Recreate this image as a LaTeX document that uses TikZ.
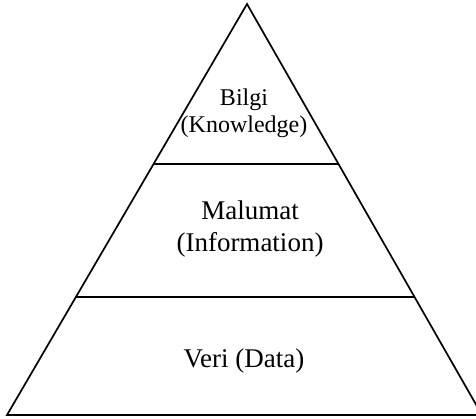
\documentclass[tikz,border=0pt]{standalone}
\usepackage{fontspec}
\setmainfont{Liberation Serif}
\usetikzlibrary{calc}
\begin{document}
\begin{tikzpicture}[x=1pt,y=-1pt,
  edge/.style={line width=1.7pt, line join=miter},
  lbl/.style={inner sep=0pt, anchor=base, align=center}]
\clip (0,0) rectangle (476,418);
\coordinate (A) at (247,4);
\coordinate (L) at (7,415);
\coordinate (R) at (482,415);
\draw[edge] (L) -- (A) -- (R) -- cycle;
\coordinate (l1) at ($(L)!0.6107!(A)$);
\coordinate (r1) at ($(R)!0.6107!(A)$);
\coordinate (l2) at ($(L)!0.2871!(A)$);
\coordinate (r2) at ($(R)!0.2871!(A)$);
\draw[edge] (l1) -- (r1);
\draw[edge] (l2) -- (r2);
\node[lbl, font=\fontsize{24}{27}\selectfont] (bilgi) at (244,132) {Bilgi\\(Knowledge)};
\node[lbl, font=\fontsize{27}{32}\selectfont] (malumat) at (250,251) {Malumat\\(Information)};
\node[lbl, font=\fontsize{27}{32}\selectfont] (veri) at (244,367) {Veri (Data)};
\end{tikzpicture}
\end{document}
